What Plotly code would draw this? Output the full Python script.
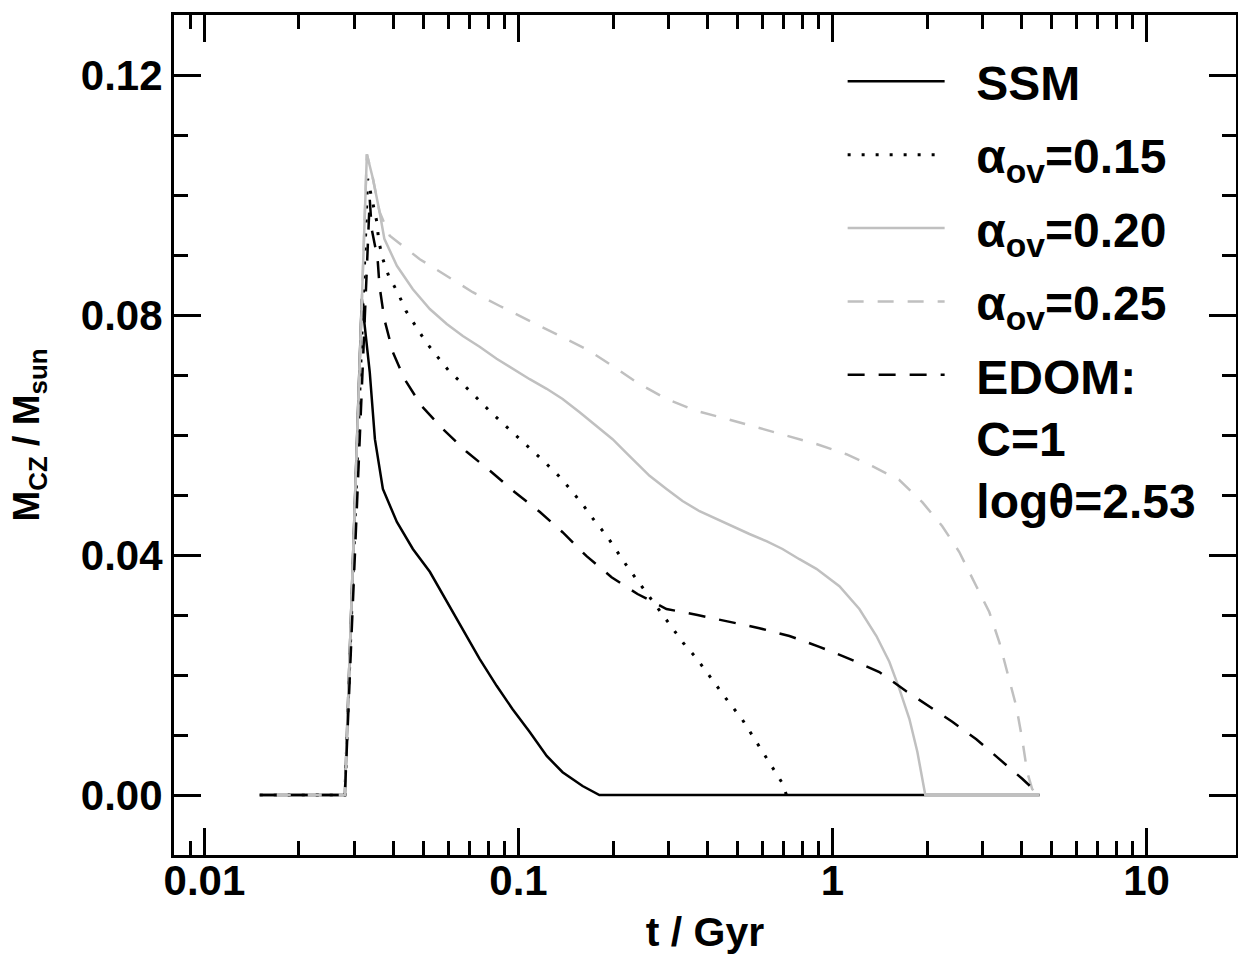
import plotly.graph_objects as go

# ---- data (t in Gyr, M_CZ / M_sun) ----
ssm_t = [0.015, 0.0280, 0.0317, 0.0336, 0.0349, 0.0370, 0.0410, 0.0461, 0.0522, 0.0591,
         0.0665, 0.0752, 0.0852, 0.0958, 0.1086, 0.1230, 0.1382, 0.160, 0.181, 4.57]
ssm_m = [0.0, 0.0, 0.0827, 0.0705, 0.0593, 0.0510, 0.0455, 0.0410, 0.0372, 0.0322,
         0.0277, 0.0227, 0.0182, 0.0143, 0.0105, 0.0065, 0.0038, 0.0015, 0.0, 0.0]

ov15_t = [0.015, 0.0280, 0.0331, 0.0344, 0.0354, 0.0359, 0.0370, 0.0386, 0.0413, 0.0438,
          0.0471, 0.0507, 0.0549, 0.0600, 0.0665, 0.0731, 0.0810, 0.0897, 0.0987, 0.1102,
          0.1211, 0.1342, 0.1477, 0.1612, 0.1747, 0.1909, 0.2053, 0.2225, 0.2412, 0.2634,
          0.2855, 0.3094, 0.3354, 0.3662, 0.3969, 0.4302, 0.4699, 0.5131, 0.5521, 0.5940,
          0.6392, 0.6879, 0.7136]
ov15_m = [0.0, 0.0, 0.1027, 0.0985, 0.0955, 0.0923, 0.0893, 0.0865, 0.0837, 0.0807,
          0.0782, 0.0755, 0.0732, 0.0707, 0.0685, 0.0663, 0.0640, 0.0618, 0.0598, 0.0575,
          0.0555, 0.0532, 0.0507, 0.0482, 0.0457, 0.0432, 0.0407, 0.0380, 0.0355, 0.0328,
          0.0303, 0.0278, 0.0253, 0.0230, 0.0205, 0.0180, 0.0153, 0.0128, 0.0102, 0.0075,
          0.0048, 0.0022, 0.0]

ov20_t = [0.015, 0.0280, 0.0329, 0.0344, 0.0361, 0.0374, 0.0410, 0.0461, 0.0522, 0.0591,
          0.0665, 0.0752, 0.0852, 0.0958, 0.1086, 0.1230, 0.1382, 0.1566, 0.1773, 0.1994,
          0.2225, 0.2615, 0.2961, 0.3330, 0.3772, 0.4272, 0.4803, 0.5439, 0.6161, 0.6930,
          0.7847, 0.8888, 1.052, 1.218, 1.380, 1.517, 1.633, 1.757, 1.863, 1.961, 1.975, 4.57]
ov20_m = [0.0, 0.0, 0.1068, 0.1027, 0.0972, 0.0927, 0.0882, 0.0843, 0.0810, 0.0785,
          0.0765, 0.0747, 0.0727, 0.0710, 0.0693, 0.0677, 0.0660, 0.0638, 0.0615, 0.0593,
          0.0568, 0.0532, 0.0510, 0.0490, 0.0473, 0.0460, 0.0447, 0.0435, 0.0423, 0.0410,
          0.0393, 0.0377, 0.0348, 0.0310, 0.0265, 0.0222, 0.0177, 0.0127, 0.0072, 0.0010, 0.0, 0.0]

ov25_t = [0.015, 0.0280, 0.0329, 0.0344, 0.0361, 0.0389, 0.0485, 0.0591, 0.0715, 0.0872,
          0.1086, 0.1323, 0.1648, 0.1994, 0.2377, 0.2961, 0.3690, 0.4597, 0.5728, 0.7135,
          0.8888, 1.107, 1.339, 1.633, 1.932, 2.237, 2.534, 2.871, 3.157, 3.398,
          3.602, 3.847, 4.020, 4.170, 4.325, 4.50, 4.57]
ov25_m = [0.0, 0.0, 0.1068, 0.1027, 0.0972, 0.0932, 0.0893, 0.0865, 0.0838, 0.0815,
          0.0790, 0.0768, 0.0743, 0.0715, 0.0688, 0.0660, 0.0640, 0.0627, 0.0613, 0.0598,
          0.0585, 0.0568, 0.0548, 0.0525, 0.0488, 0.0448, 0.0405, 0.0348, 0.0305, 0.0255,
          0.0205, 0.0148, 0.0093, 0.0038, 0.0010, 0.0, 0.0]

edom_t = [0.015, 0.0280, 0.0336, 0.0341, 0.0356, 0.0361, 0.0374, 0.0398, 0.0434, 0.0492,
          0.0574, 0.0684, 0.0822, 0.0972, 0.1168, 0.1382, 0.1648, 0.1979, 0.2394, 0.2961,
          0.3716, 0.4697, 0.5853, 0.7293, 0.9085, 1.132, 1.410, 1.718, 2.034, 2.407,
          2.871, 3.398, 4.020, 4.57]
edom_m = [0.0, 0.0, 0.0993, 0.0943, 0.0893, 0.0848, 0.0793, 0.0738, 0.0693, 0.0648,
          0.0610, 0.0572, 0.0538, 0.0505, 0.0472, 0.0438, 0.0398, 0.0363, 0.0335, 0.0310,
          0.0300, 0.0288, 0.0278, 0.0265, 0.0247, 0.0227, 0.0205, 0.0173, 0.0148, 0.0122,
          0.0093, 0.0060, 0.0027, 0.0]

legend_lines = [["SSM"], ["α<sub>ov</sub>=0.15"], ["α<sub>ov</sub>=0.20"],
                ["α<sub>ov</sub>=0.25"], ["EDOM:", "C=1", "logθ=2.53"]]

x_tickvals = [0.01, 0.1, 1, 10]
x_ticktext = ["0.01", "0.1", "1", "10"]
y_tickvals = [0.0, 0.04, 0.08, 0.12]
y_ticktext = ["0.00", "0.04", "0.08", "0.12"]

GRAY = "#c0c0c0"
FONT = "Liberation Sans"
PAD = "\u00a0\u00a0"

series = [
    (ssm_t, ssm_m, dict(color="black", width=2.5)),
    (ov15_t, ov15_m, dict(color="black", width=3, dash="3px,11px")),
    (ov20_t, ov20_m, dict(color=GRAY, width=2.5)),
    (ov25_t, ov25_m, dict(color=GRAY, width=2.5, dash="16px,14px")),
    (edom_t, edom_m, dict(color="black", width=2.5, dash="17px,14px")),
]

fig = go.Figure()
for i, (tt, mm, ln) in enumerate(series):
    name = "<br>".join(PAD + s for s in legend_lines[i])
    fig.add_trace(go.Scatter(x=tt, y=mm, mode="lines", name=name,
                             legendgroup="g%d" % i, line=ln))

axis_common = dict(
    showline=True, linecolor="black", linewidth=3, mirror="ticks",
    ticks="inside", ticklen=27, tickwidth=3, tickcolor="black",
    showgrid=False, zeroline=False, automargin=False,
    tickfont=dict(family=FONT, size=42, color="black", weight="bold"),
)

fig.update_xaxes(type="log", range=[-2.097, 1.285],
                 tickvals=x_tickvals, ticktext=x_ticktext, ticklabelstandoff=-13,
                 minor=dict(ticks="inside", ticklen=14, tickwidth=3, tickcolor="black",
                            dtick="D1", showgrid=False),
                 title=dict(text="t / Gyr", standoff=32,
                            font=dict(family=FONT, size=41, color="black", weight="bold")),
                 **axis_common)
fig.update_yaxes(range=[-0.01, 0.13],
                 tickvals=y_tickvals, ticktext=y_ticktext,
                 minor=dict(ticks="inside", ticklen=14, tickwidth=3, tickcolor="black",
                            dtick=0.01, tick0=0, showgrid=False),
                 title=dict(text="M<sub>CZ</sub> / M<sub>sun</sub>", standoff=30,
                            font=dict(family=FONT, size=37, color="black", weight="bold")),
                 **axis_common)

fig.update_layout(
    width=1238, height=955,
    margin=dict(l=174, r=2, t=15, b=100),
    plot_bgcolor="white", paper_bgcolor="white",
    showlegend=True,
    legend=dict(x=0.6296, y=0.966, xanchor="left", yanchor="top",
                bgcolor="rgba(0,0,0,0)", borderwidth=0,
                font=dict(family=FONT, size=48, color="black", weight="bold"),
                itemwidth=97, valign="top", traceorder="grouped",
                tracegroupgap=8),
)

fig.write_html("out.html", config={"displayModeBar": False},
               post_script="document.body.style.margin='0';")
